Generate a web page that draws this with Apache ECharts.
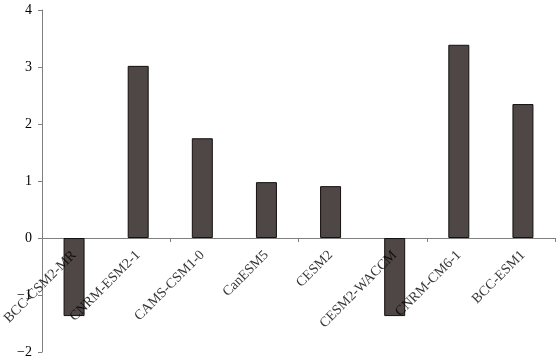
<!DOCTYPE html>
<html><head><meta charset="utf-8">
<script src="https://cdn.jsdelivr.net/npm/echarts@6/dist/echarts.min.js"></script>
<style>html,body{margin:0;padding:0;background:#fff}#c{width:560px;height:361px}</style>
</head><body><div id="c"></div>
<script>
var categories = ['BCC-CSM2-MR','CNRM-ESM2-1','CAMS-CSM1-0','CanESM5','CESM2','CESM2-WACCM','CNRM-CM6-1','BCC-ESM1'];
var values = [-1.37, 3.02, 1.75, 0.98, 0.91, -1.37, 3.39, 2.35];
var yTicks = [-2, -1, 0, 1, 2, 3, 4];

var labelData = categories.map(function(c){ return {value:[c, 0], name:c}; });

var chart = echarts.init(document.getElementById('c'), null, {renderer:'canvas'});
chart.setOption({
  animation:false,
  backgroundColor:'#fff',
  grid:{left:42, right:5, top:10, bottom:9, containLabel:false, outerBoundsMode:'none'},
  xAxis:{
    type:'category', data:categories, boundaryGap:true,
    axisLine:{show:true, onZero:true, lineStyle:{color:'#7f7f7f', width:1}},
    axisTick:{show:true, length:4, alignWithLabel:false, inside:false, lineStyle:{color:'#7f7f7f'}},
    axisLabel:{show:false}
  },
  yAxis:{
    type:'value', min:yTicks[0], max:yTicks[yTicks.length-1], interval:1,
    splitLine:{show:false},
    axisLine:{show:true, lineStyle:{color:'#7f7f7f', width:1}},
    axisTick:{show:true, length:4, lineStyle:{color:'#7f7f7f'}},
    axisLabel:{margin:10, fontFamily:'Liberation Serif', fontSize:14, color:'#000',
      formatter:function(v){return String(v).replace('-', '\u2212');}}
  },
  series:[{
    type:'bar', data:values, barWidth:21,
    itemStyle:{color:'#4f4646', borderColor:'#111', borderWidth:1}
  },{
    type:'scatter', data:labelData, symbolSize:0, silent:true, z:5,
    label:{show:true, position:'bottom', distance:15, rotate:45, align:'right', verticalAlign:'middle',
      formatter:function(p){return p.name;},
      fontFamily:'Liberation Serif', fontSize:14, color:'#000'}
  }]
});
</script></body></html>
